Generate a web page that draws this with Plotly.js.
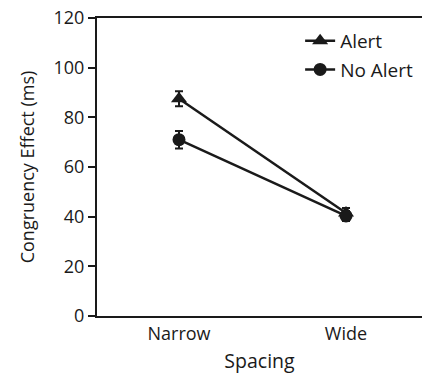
<!DOCTYPE html>
<html>
<head>
<meta charset="utf-8">
<script src="https://cdn.plot.ly/plotly-3.0.1.min.js"></script>
<style>html,body{margin:0;padding:0;background:#fff;}#chart{width:422px;height:374px;}</style>
</head>
<body>
<div id="chart"></div>
<script>
const categories = ["Narrow", "Wide"];
const alertValues = [87.5, 41.5];
const alertErrors = [3, 2];
const noAlertValues = [71, 40.3];
const noAlertErrors = [3.5, 2];
const yTickValues = [0, 20, 40, 60, 80, 100, 120];

const FONT = "Open Sans, sans-serif";
const INK = "#1a1a1a";

const traces = [
  {
    x: categories, y: alertValues, name: "Alert", type: "scatter", mode: "lines+markers",
    legendgroup: "a",
    line: {color: INK, width: 2.5},
    marker: {symbol: "triangle-up", size: 14, color: INK},
    error_y: {type: "data", array: alertErrors, visible: true, color: INK, thickness: 2, width: 4}
  },
  {
    x: categories, y: noAlertValues, name: "No Alert", type: "scatter", mode: "lines+markers",
    legendgroup: "b",
    line: {color: INK, width: 2.5},
    marker: {symbol: "circle", size: 13, color: INK},
    error_y: {type: "data", array: noAlertErrors, visible: true, color: INK, thickness: 2, width: 4}
  }
];

const layout = {
  width: 422, height: 374,
  margin: {l: 97, r: 0, t: 18, b: 58},
  paper_bgcolor: "#fff", plot_bgcolor: "#fff",
  font: {family: FONT, size: 18, color: INK},
  showlegend: true,
  legend: {
    x: 0.625, y: 0.987, xanchor: "left", yanchor: "top",
    bgcolor: "rgba(0,0,0,0)", borderwidth: 0,
    font: {family: FONT, size: 19, color: INK},
    traceorder: "grouped", tracegroupgap: 1,
    itemwidth: 30
  },
  xaxis: {
    type: "category",
    range: [-0.491, 1.455],
    showline: true, linecolor: INK, linewidth: 2, mirror: true,
    showgrid: false, zeroline: false,
    ticks: "", ticklen: 0,
    tickfont: {family: FONT, size: 18, color: INK},
    title: {text: "Spacing", font: {family: FONT, size: 19.5, color: INK}, standoff: 14}
  },
  yaxis: {
    range: [0, 120],
    tickvals: yTickValues,
    showline: true, linecolor: INK, linewidth: 2,
    showgrid: false, zeroline: false,
    ticks: "outside", ticklen: 7, tickwidth: 2, tickcolor: INK,
    tickfont: {family: FONT, size: 18, color: INK},
    title: {text: "Congruency Effect (ms)", font: {family: FONT, size: 18, color: INK}, standoff: 14}
  }
};

Plotly.newPlot("chart", traces, layout, {displayModeBar: false, staticPlot: true});
</script>
</body>
</html>
